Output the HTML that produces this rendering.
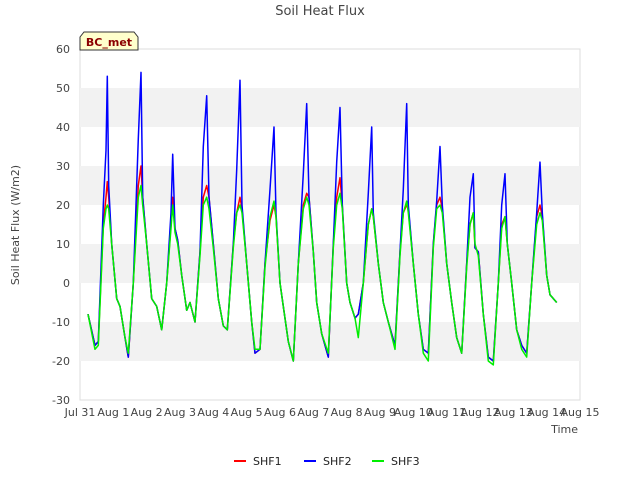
<!DOCTYPE html>
<html><head><meta charset="utf-8"><style>
body{margin:0;background:#fff;font-family:"Liberation Sans","DejaVu Sans",sans-serif;}
svg text{font-family:"DejaVu Sans","Liberation Sans",sans-serif;}
</style></head><body>
<svg id="chart" width="640" height="480">
<text x="320" y="15" text-anchor="middle" font-size="13" fill="#444">Soil Heat Flux</text>
<g id="plot"></g>
<text x="19" y="225" transform="rotate(-90 19 225)" text-anchor="middle" font-size="11" fill="#444">Soil Heat Flux (W/m2)</text>
<text x="578" y="433" text-anchor="end" font-size="11" fill="#444">Time</text>
<g>
<path d="M80,50 L80,37 L84,32 L134,32 L138,37 L138,50 Z" fill="#ffffcc" stroke="#333"/>
<text x="109" y="46" text-anchor="middle" font-size="11" font-weight="bold" fill="#8b0000">BC_met</text>
</g>
<g id="legend"></g>
</svg>
<script>
const times=[0.24,0.45,0.55,0.7,0.78,0.82,0.86,0.95,1.1,1.2,1.35,1.45,1.6,1.75,1.83,1.88,2.0,2.15,2.3,2.45,2.6,2.73,2.78,2.85,2.93,3.05,3.2,3.3,3.45,3.6,3.7,3.8,3.87,4.0,4.15,4.3,4.42,4.6,4.7,4.8,4.86,5.0,5.15,5.25,5.4,5.55,5.7,5.82,5.88,6.0,6.1,6.25,6.4,6.55,6.7,6.8,6.87,7.0,7.1,7.25,7.45,7.6,7.7,7.8,7.87,8.0,8.1,8.25,8.35,8.5,8.65,8.75,8.8,8.95,9.1,9.25,9.45,9.6,9.7,9.8,9.85,10.0,10.15,10.3,10.45,10.6,10.7,10.8,10.87,11.0,11.15,11.3,11.45,11.6,11.7,11.8,11.85,11.95,12.1,12.25,12.4,12.55,12.65,12.75,12.82,12.95,13.1,13.25,13.4,13.55,13.7,13.8,13.87,14.0,14.1,14.3];
const shf2=[-8,-16,-15,20,34,53,25,10,-4,-6,-14,-19,0,37,54,22,10,-4,-6,-12,0,18,33,14,11,2,-7,-5,-10,8,35,48,22,10,-4,-11,-12,10,29,52,20,5,-10,-18,-17,5,24,40,18,0,-6,-15,-20,5,28,46,22,8,-5,-13,-19,10,31,45,20,0,-5,-9,-8,0,23,40,18,5,-5,-10,-16,8,24,46,20,5,-8,-17,-18,10,21,35,20,5,-5,-14,-18,5,22,28,9,8,-8,-19,-20,0,20,28,10,0,-12,-16,-18,0,18,31,18,2,-3,-5];
const shf1=[-8,-16,-15,15,22,26,22,10,-4,-6,-14,-19,0,25,30,22,10,-4,-6,-12,0,15,22,14,11,2,-7,-5,-10,8,22,25,22,10,-4,-11,-12,10,18,22,19,5,-10,-18,-17,5,16,20,17,0,-6,-15,-20,5,20,23,22,8,-5,-13,-19,10,22,27,20,0,-5,-9,-8,0,15,19,17,5,-5,-10,-16,8,18,20,19,5,-8,-17,-18,10,20,22,19,5,-5,-14,-18,5,15,18,9,8,-8,-19,-20,0,15,17,10,0,-12,-16,-18,0,17,20,17,2,-3,-5];
const shf3=[-8,-17,-16,14,19,20,19,10,-4,-6,-14,-18,0,22,25,20,10,-4,-6,-12,0,14,20,13,10,2,-7,-5,-10,7,20,22,19,9,-4,-11,-12,9,18,20,18,5,-10,-17,-17,4,17,21,17,0,-6,-15,-20,5,19,22,20,8,-5,-13,-18,9,20,23,19,0,-5,-9,-14,0,15,19,17,5,-5,-10,-17,7,18,21,18,5,-8,-18,-20,9,19,20,18,5,-5,-14,-18,4,15,18,10,7,-8,-20,-21,0,14,17,10,0,-12,-17,-19,0,15,18,16,2,-3,-5];
const yTicks=[-30,-20,-10,0,10,20,30,40,50,60];
const xLabels=["Jul 31","Aug 1","Aug 2","Aug 3","Aug 4","Aug 5","Aug 6","Aug 7","Aug 8","Aug 9","Aug 10","Aug 11","Aug 12","Aug 13","Aug 14","Aug 15"];
const seriesNames=["SHF1","SHF2","SHF3"];
const seriesColors=["#ff0000","#0000ff","#00ee00"];
const NS="http://www.w3.org/2000/svg";
const L=80,R=580,T=49,B=400;
const xs=d=>L+d*(R-L)/15;
const ys=v=>B-(v+30)*(B-T)/90;
const plot=document.getElementById('plot');
function mk(tag,attrs,parent){const e=document.createElementNS(NS,tag);for(const k in attrs)e.setAttribute(k,attrs[k]);parent.appendChild(e);return e;}
const bg=mk('rect',{x:L,y:T,width:R-L,height:B-T,fill:'#fff',stroke:'#ddd'},plot);


for(let i=0;i<yTicks.length-1;i++){
  if(i%2===1){const b=mk('rect',{x:L,y:ys(yTicks[i+1]),width:R-L,height:ys(yTicks[i])-ys(yTicks[i+1]),fill:'#f2f2f2'},plot);
  
  }
}
yTicks.forEach(v=>{
  const t=mk('text',{x:L-10,y:ys(v)+4,'text-anchor':'end','font-size':11,fill:'#444'},plot);t.textContent=v;
  
  
});
xLabels.forEach((s,i)=>{
  const t=mk('text',{x:xs(i),y:416,'text-anchor':'middle','font-size':11,fill:'#444'},plot);t.textContent=s;
  
  
});
[shf1,shf2,shf3].forEach((arr,si)=>{
  const d=arr.map((v,i)=>(i?'L':'M')+xs(times[i]).toFixed(1)+','+ys(v).toFixed(1)).join(' ');
  const p=mk('path',{d:d,fill:'none',stroke:seriesColors[si],'stroke-width':1.5,'stroke-linejoin':'round'},plot);
  
  
});
const leg=document.getElementById('legend');
const lx=[234,304,372];
seriesNames.forEach((n,i)=>{
  const g=mk('g',{},leg);
  
  
  mk('line',{x1:lx[i],x2:lx[i]+12,y1:461,y2:461,stroke:seriesColors[i],'stroke-width':2},g);
  const t=mk('text',{x:lx[i]+19,y:465,'font-size':11,fill:'#222'},g);t.textContent=n;
});
</script>
</body></html>
